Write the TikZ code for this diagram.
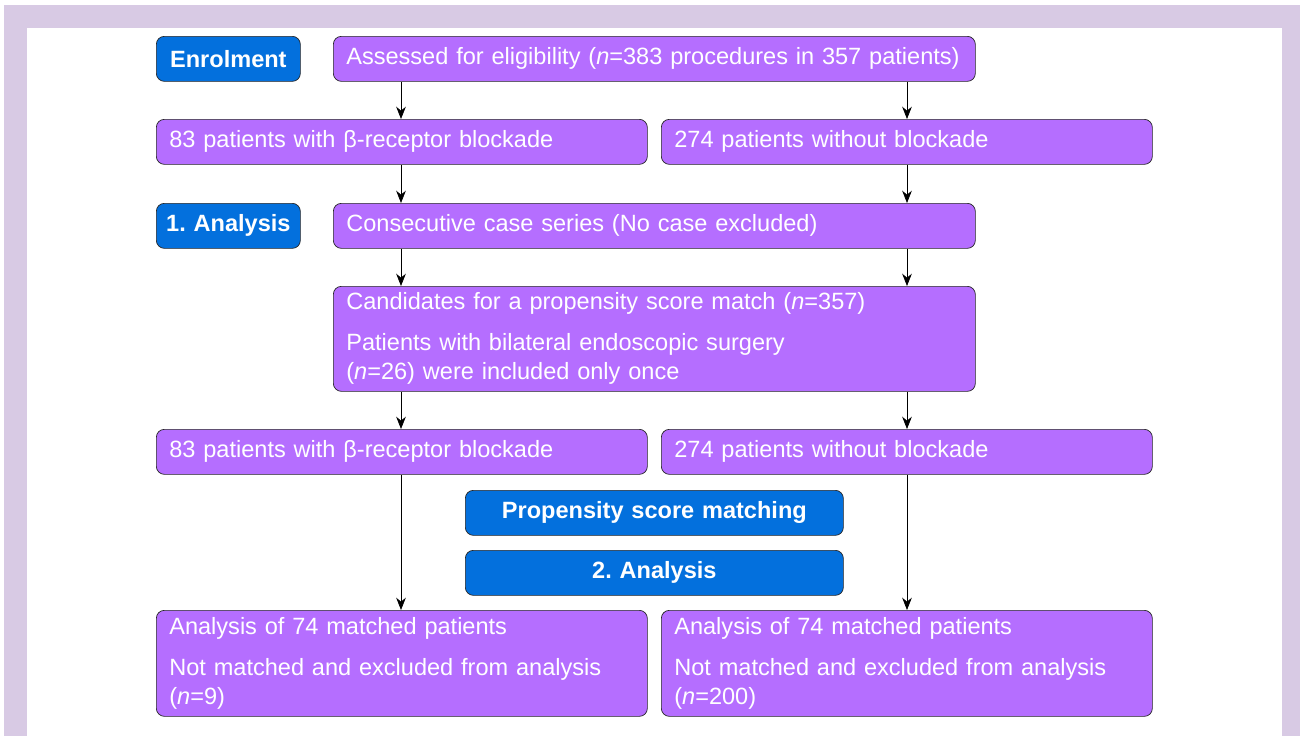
\documentclass[tikz,border=0pt]{standalone}
\usepackage{fontspec}
\setmainfont{Liberation Sans}
\frenchspacing
\usetikzlibrary{arrows.meta}
\definecolor{framelav}{RGB}{216,202,228}
\definecolor{boxpurple}{RGB}{181,110,255}
\definecolor{headblue}{RGB}{3,112,221}
\tikzset{
  box/.style={draw=black!85, fill=boxpurple, rounded corners=0.16cm, text=white,
    anchor=north west, inner xsep=0.26cm, inner ysep=0pt, align=left,
    font=\fontsize{13.4}{16.5}\selectfont},
  head/.style={box, fill=headblue, inner xsep=0.08cm, align=center,
    font=\fontsize{13.4}{16.5}\selectfont\bfseries},
  arr/.style={-{Stealth[length=7pt,width=5.5pt]}, black}
}
\begin{document}
\begin{tikzpicture}
    \useasboundingbox (0,0) rectangle (26,-14.72);
    % Frame
    \fill[framelav] (0.08,-0.10) rectangle (26,-14.72);
    \fill[white] (0.54,-0.56) rectangle (25.64,-14.72);
    % Enrolment row
    \node[head, text width=2.72cm, minimum height=0.9cm] (enrol) at (3.12,-0.72) {Enrolment};
    \node[box, text width=12.32cm, minimum height=0.9cm] (assess) at (6.66,-0.72)
        {\mbox{Assessed for eligibility (\textit{n}=383 procedures in 357 patients)}};
    \node[box, text width=9.30cm, minimum height=0.9cm] (lbeta) at (3.12,-2.38)
        {83 patients with β-receptor blockade};
    \node[box, text width=9.30cm, minimum height=0.9cm] (rnone) at (13.22,-2.38)
        {274 patients without blockade};
    % First analysis
    \node[head, text width=2.72cm, minimum height=0.9cm] (anaone) at (3.12,-4.06) {1. Analysis};
    \node[box, text width=12.32cm, minimum height=0.9cm] (consec) at (6.66,-4.06)
        {Consecutive case series (No case excluded)};
    \node[box, text width=12.32cm, minimum height=2.1cm] (cand) at (6.66,-5.72)
        {Candidates for a propensity score match (\textit{n}=357)\\[6.8pt]
         Patients with bilateral endoscopic surgery\\
         (\textit{n}=26) were included only once};
    \node[box, text width=9.30cm, minimum height=0.9cm] (lbetatwo) at (3.12,-8.58)
        {83 patients with β-receptor blockade};
    \node[box, text width=9.30cm, minimum height=0.9cm] (rnonetwo) at (13.22,-8.58)
        {274 patients without blockade};
    % Matching
    \node[head, text width=7.40cm, minimum height=0.9cm] (psm) at (9.30,-9.80) {Propensity score matching};
    \node[head, text width=7.40cm, minimum height=0.9cm] (anatwo) at (9.30,-11.00) {2. Analysis};
    % Results
    \node[box, text width=9.30cm, minimum height=2.12cm] (lres) at (3.12,-12.20)
        {Analysis of 74 matched patients\\[6.8pt]
         Not matched and excluded from analysis\\
         (\textit{n}=9)};
    \node[box, text width=9.30cm, minimum height=2.12cm] (rres) at (13.22,-12.20)
        {Analysis of 74 matched patients\\[6.8pt]
         Not matched and excluded from analysis\\
         (\textit{n}=200)};
    % Arrows
    \coordinate (xl) at (8.02,0);
    \coordinate (xr) at (18.14,0);
    \draw[arr] (assess.south -| xl) -- (lbeta.north -| xl);
    \draw[arr] (assess.south -| xr) -- (rnone.north -| xr);
    \draw[arr] (lbeta.south -| xl) -- (consec.north -| xl);
    \draw[arr] (rnone.south -| xr) -- (consec.north -| xr);
    \draw[arr] (consec.south -| xl) -- (cand.north -| xl);
    \draw[arr] (consec.south -| xr) -- (cand.north -| xr);
    \draw[arr] (cand.south -| xl) -- (lbetatwo.north -| xl);
    \draw[arr] (cand.south -| xr) -- (rnonetwo.north -| xr);
    \draw[arr] (lbetatwo.south -| xl) -- (lres.north -| xl);
    \draw[arr] (rnonetwo.south -| xr) -- (rres.north -| xr);
\end{tikzpicture}
\end{document}
